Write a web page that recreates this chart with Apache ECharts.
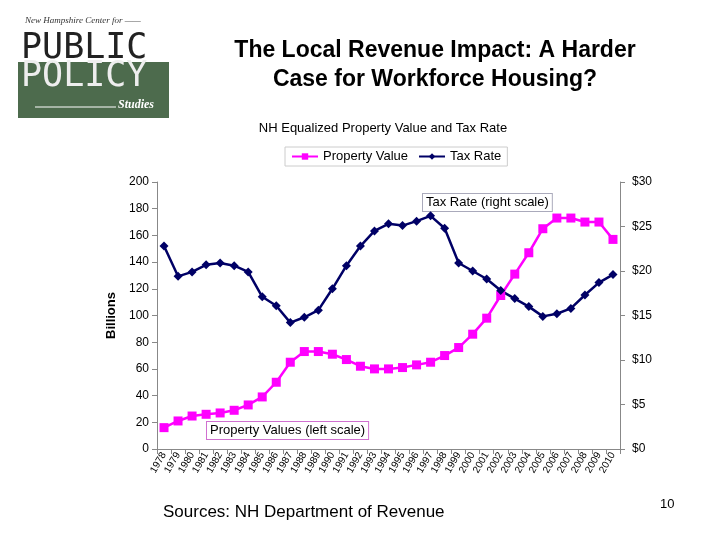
<!DOCTYPE html>
<html>
<head>
<meta charset="UTF-8">
<script src="https://cdn.jsdelivr.net/npm/echarts@6/dist/echarts.min.js"></script>
<style>body{margin:0}#c{width:720px;height:540px}</style>
</head>
<body>
<div id="c"></div>
<script>
var years = [];
for (var y = 1978; y <= 2010; y++) years.push(String(y));
var propertyValue = [16,21,24.7,26,27,29,33,39,50,65,73,73,71,67,62,60,60,61,63,65,70,76,86,98,115,131,147,165,173,173,170,170,157];
var taxRate = [22.8,19.4,19.9,20.7,20.9,20.6,19.9,17.1,16.1,14.2,14.8,15.6,18.0,20.6,22.8,24.5,25.3,25.1,25.6,26.2,24.8,20.9,20.0,19.1,17.8,16.9,16.0,14.9,15.2,15.8,17.3,18.7,19.6];

var chart = echarts.init(document.getElementById('c'));
chart.setOption({
  animation: false,
  title: [
    {text: 'The Local Revenue Impact: A Harder\nCase for Workforce Housing?', left: 430, top: 31, textAlign: 'center',
     textStyle: {fontFamily: 'Liberation Sans', fontWeight: 'bold', fontSize: 23, lineHeight: 29, color: '#000'}},
    {text: 'NH Equalized Property Value and Tax Rate', left: 378, top: 117, textAlign: 'center',
     textStyle: {fontFamily: 'Liberation Sans', fontWeight: 'normal', fontSize: 13, color: '#000'}}
  ],
  legend: {
    top: 147, left: 285, itemWidth: 26, itemHeight: 8, itemGap: 10,
    backgroundColor: '#fff', borderColor: '#ccc', borderWidth: 1, padding: [3, 6],
    textStyle: {fontFamily: 'Liberation Sans', fontSize: 13, color: '#000'},
    data: ['Property Value', 'Tax Rate']
  },
  grid: {left: 157, right: 100, top: 182, bottom: 91},
  xAxis: {
    type: 'category', data: years, boundaryGap: true,
    axisLine: {lineStyle: {color: '#888'}},
    axisTick: {show: true, lineStyle: {color: '#888'}},
    axisLabel: {rotate: 60, interval: 0, fontSize: 10, color: '#000', fontFamily: 'Liberation Sans', margin: 4}
  },
  yAxis: [
    {type: 'value', min: 0, max: 200, interval: 20, name: 'Billions', nameLocation: 'middle', nameGap: 30,
     nameTextStyle: {fontFamily: 'Liberation Sans', fontWeight: 'bold', fontSize: 13, color: '#000'},
     splitLine: {show: false}, axisLine: {show: true, lineStyle: {color: '#888'}}, axisTick: {show: true},
     axisLabel: {fontSize: 12, color: '#000', fontFamily: 'Liberation Sans'}},
    {type: 'value', min: 0, max: 30, interval: 5, position: 'right',
     splitLine: {show: false}, axisLine: {show: true, lineStyle: {color: '#888'}}, axisTick: {show: true},
     axisLabel: {fontSize: 12, color: '#000', fontFamily: 'Liberation Sans', formatter: '${value}', margin: 12}}
  ],
  series: [
    {name: 'Property Value', type: 'line', data: propertyValue, yAxisIndex: 0, symbol: 'rect', symbolSize: 9,
     color: '#ff00ff', lineStyle: {width: 2.5, color: '#ff00ff'}, itemStyle: {color: '#ff00ff'}},
    {name: 'Tax Rate', type: 'line', data: taxRate, yAxisIndex: 1, symbol: 'diamond', symbolSize: 9,
     color: '#000066', lineStyle: {width: 2.5, color: '#000066'}, itemStyle: {color: '#000066'}}
  ],
  graphic: [
    {type: 'rect', left: 18, top: 22, shape: {width: 151, height: 96}, style: {fill: '#fff'}},
    {type: 'rect', left: 18, top: 62, shape: {width: 151, height: 56}, style: {fill: '#4d6b4d'}},
    {type: 'text', left: 25, top: 16, style: {text: 'New Hampshire Center for ——', font: 'italic 9px Liberation Serif', fill: '#333'}},
    {type: 'text', left: 21, top: 31, style: {text: 'PUBLIC', font: '35px DejaVu Sans Mono', fill: '#222'}},
    {type: 'text', left: 21, top: 59, style: {text: 'POLICY', font: '35px DejaVu Sans Mono', fill: '#eee'}},
    {type: 'text', left: 118, top: 99, style: {text: 'Studies', font: 'italic bold 12px Liberation Serif', fill: '#fff'}},
    {type: 'line', shape: {x1: 35, y1: 107, x2: 116, y2: 107}, style: {stroke: '#fff', lineWidth: 1}},
    {type: 'text', left: 422, top: 193, style: {text: 'Tax Rate (right scale)', font: '13px Liberation Sans', fill: '#000', backgroundColor: '#fff', borderColor: '#aab', borderWidth: 1, padding: [2, 3]}},
    {type: 'text', left: 206, top: 421, style: {text: 'Property Values (left scale)', font: '13px Liberation Sans', fill: '#000', backgroundColor: '#fff', borderColor: '#d070d0', borderWidth: 1, padding: [2, 3]}},
    {type: 'text', left: 163, top: 504, style: {text: 'Sources: NH Department of Revenue', font: '17px Liberation Sans', fill: '#000'}},
    {type: 'text', left: 660, top: 498, style: {text: '10', font: '13px Liberation Sans', fill: '#000'}}
  ]
});
</script>
</body>
</html>
